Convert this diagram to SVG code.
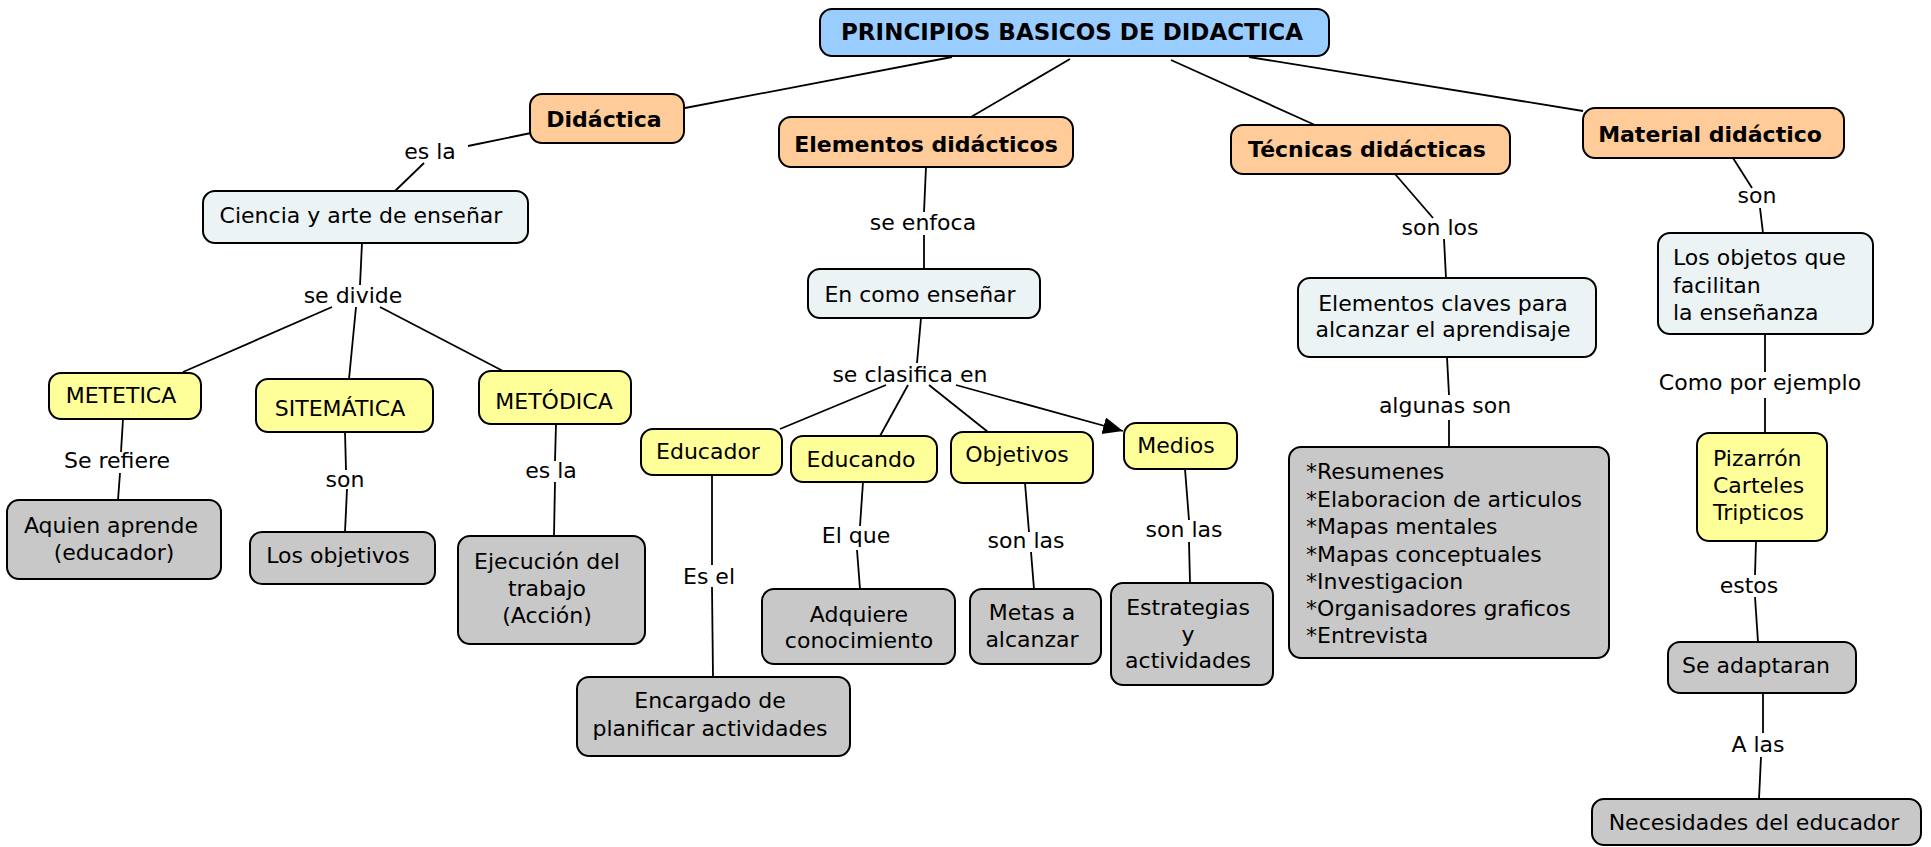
<svg xmlns="http://www.w3.org/2000/svg" width="1931" height="847" viewBox="0 0 1931 847">
<style>
text{font-family:"DejaVu Sans","Verdana",sans-serif;font-size:22px;fill:#000}
.b{font-weight:bold}
.c{text-anchor:middle}
rect{stroke:#000;stroke-width:2;rx:12;ry:12}
.root{fill:#99CCFF}
.or{fill:#FFCC99}
.lb{fill:#EBF3F5}
.ye{fill:#FFFF99}
.gr{fill:#C8C8C8}
#connectors line{stroke:#000;stroke-width:1.8;fill:none}
</style>
<defs>
<marker id="arr" markerUnits="userSpaceOnUse" markerWidth="22" markerHeight="18" refX="20" refY="8.5" orient="auto">
<path d="M0,0 L20,8.5 L0,17 z" fill="#000"/>
</marker>
</defs>
<rect x="0" y="0" width="1931" height="847" style="fill:#fff;stroke:none"/>
<g id="connectors">
<line x1="952" y1="57" x2="685" y2="108"/>
<line x1="531" y1="133" x2="468" y2="146"/>
<line x1="424" y1="163" x2="395" y2="191"/>
<line x1="1070" y1="59" x2="971" y2="117"/>
<line x1="926" y1="167" x2="924" y2="212"/>
<line x1="924" y1="235" x2="924" y2="269"/>
<line x1="1171" y1="60" x2="1315" y2="125"/>
<line x1="1249" y1="57" x2="1583" y2="111"/>
<line x1="1395" y1="174" x2="1433" y2="218"/>
<line x1="1444" y1="239" x2="1446" y2="278"/>
<line x1="1733" y1="158" x2="1752" y2="188"/>
<line x1="1760" y1="208" x2="1763" y2="233"/>
<line x1="1765" y1="334" x2="1765" y2="372"/>
<line x1="1765" y1="398" x2="1765" y2="433"/>
<line x1="362" y1="243" x2="360" y2="285"/>
<line x1="332" y1="307" x2="183" y2="372"/>
<line x1="356" y1="307" x2="349" y2="379"/>
<line x1="380" y1="307" x2="503" y2="371"/>
<line x1="123" y1="419" x2="121" y2="452"/>
<line x1="120" y1="473" x2="118" y2="500"/>
<line x1="345" y1="432" x2="346" y2="470"/>
<line x1="347" y1="489" x2="345" y2="532"/>
<line x1="556" y1="424" x2="555" y2="461"/>
<line x1="555" y1="482" x2="554" y2="536"/>
<line x1="921" y1="318" x2="917" y2="363"/>
<line x1="886" y1="385" x2="780" y2="429"/>
<line x1="908" y1="385" x2="880" y2="436"/>
<line x1="929" y1="385" x2="988" y2="432"/>
<line x1="956" y1="385" x2="1123" y2="431" marker-end="url(#arr)"/>
<line x1="712" y1="475" x2="712" y2="565"/>
<line x1="712" y1="587" x2="713" y2="677"/>
<line x1="863" y1="482" x2="860" y2="526"/>
<line x1="857" y1="550" x2="860" y2="589"/>
<line x1="1025" y1="483" x2="1029" y2="532"/>
<line x1="1031" y1="552" x2="1034" y2="589"/>
<line x1="1185" y1="469" x2="1189" y2="520"/>
<line x1="1189" y1="542" x2="1190" y2="583"/>
<line x1="1447" y1="357" x2="1449" y2="395"/>
<line x1="1449" y1="420" x2="1449" y2="447"/>
<line x1="1756" y1="541" x2="1755" y2="575"/>
<line x1="1755" y1="597" x2="1758" y2="642"/>
<line x1="1763" y1="693" x2="1763" y2="733"/>
<line x1="1761" y1="757" x2="1759" y2="799"/>
</g>
<g id="labels">
<text class="c" x="430" y="159">es la</text>
<text class="c" x="353" y="303">se divide</text>
<text class="c" x="923" y="230">se enfoca</text>
<text class="c" x="1440" y="235">son los</text>
<text class="c" x="1757" y="203">son</text>
<text class="c" x="1760" y="390">Como por ejemplo</text>
<text class="c" x="117" y="468">Se refiere</text>
<text class="c" x="345" y="487">son</text>
<text class="c" x="551" y="478">es la</text>
<text class="c" x="910" y="382">se clasifica en</text>
<text class="c" x="709" y="584">Es el</text>
<text class="c" x="856" y="543">El que</text>
<text class="c" x="1026" y="548">son las</text>
<text class="c" x="1184" y="537">son las</text>
<text class="c" x="1445" y="413">algunas son</text>
<text class="c" x="1749" y="593">estos</text>
<text class="c" x="1758" y="752">A las</text>
</g>
<g id="root"><rect class="root" x="820" y="9" width="509" height="47"/><text class="b c" x="1072" y="40" style="font-size:23px">PRINCIPIOS BASICOS DE DIDACTICA</text></g>
<g id="didactica"><rect class="or" x="530" y="94" width="154" height="49"/><text class="b c" x="604" y="127">Didáctica</text></g>
<g id="elementos"><rect class="or" x="779" y="117" width="294" height="50"/><text class="b c" x="926" y="152">Elementos didácticos</text></g>
<g id="tecnicas"><rect class="or" x="1231" y="125" width="279" height="49"/><text class="b c" x="1367" y="157">Técnicas didácticas</text></g>
<g id="material"><rect class="or" x="1583" y="108" width="261" height="50"/><text class="b c" x="1710" y="142">Material didáctico</text></g>
<g id="ciencia"><rect class="lb" x="203" y="191" width="325" height="52"/><text class="c" x="361" y="223">Ciencia y arte de enseñar</text></g>
<g id="encomo"><rect class="lb" x="808" y="269" width="232" height="49"/><text class="c" x="920" y="302">En como enseñar</text></g>
<g id="elemclaves"><rect class="lb" x="1298" y="278" width="298" height="79"/><text class="c" x="1443" y="311">Elementos claves para</text><text class="c" x="1443" y="337">alcanzar el aprendisaje</text></g>
<g id="losobjetos"><rect class="lb" x="1658" y="233" width="215" height="101"/><text x="1673" y="265">Los objetos que</text><text x="1673" y="293">facilitan</text><text x="1673" y="320">la enseñanza</text></g>
<g id="metetica"><rect class="ye" x="49" y="373" width="152" height="46"/><text class="c" x="121" y="403">METETICA</text></g>
<g id="sitematica"><rect class="ye" x="256" y="379" width="177" height="53"/><text class="c" x="340" y="416">SITEMÁTICA</text></g>
<g id="metodica"><rect class="ye" x="479" y="371" width="152" height="53"/><text class="c" x="554" y="409">METÓDICA</text></g>
<g id="educador"><rect class="ye" x="641" y="429" width="141" height="46"/><text class="c" x="708" y="459">Educador</text></g>
<g id="educando"><rect class="ye" x="791" y="436" width="146" height="46"/><text class="c" x="861" y="467">Educando</text></g>
<g id="objetivos"><rect class="ye" x="951" y="432" width="142" height="51"/><text class="c" x="1017" y="462">Objetivos</text></g>
<g id="medios"><rect class="ye" x="1124" y="423" width="113" height="46"/><text class="c" x="1176" y="453">Medios</text></g>
<g id="aquien"><rect class="gr" x="7" y="500" width="214" height="79"/><text class="c" x="111" y="533">Aquien aprende</text><text class="c" x="114" y="560">(educador)</text></g>
<g id="losobjetivos"><rect class="gr" x="250" y="532" width="185" height="52"/><text class="c" x="338" y="563">Los objetivos</text></g>
<g id="ejecucion"><rect class="gr" x="458" y="536" width="187" height="108"/><text class="c" x="547" y="569">Ejecución del</text><text class="c" x="547" y="596">trabajo</text><text class="c" x="547" y="623">(Acción)</text></g>
<g id="encargado"><rect class="gr" x="577" y="677" width="273" height="79"/><text class="c" x="710" y="708">Encargado de</text><text class="c" x="710" y="736">planificar actividades</text></g>
<g id="adquiere"><rect class="gr" x="762" y="589" width="193" height="75"/><text class="c" x="859" y="622">Adquiere</text><text class="c" x="859" y="648">conocimiento</text></g>
<g id="metas"><rect class="gr" x="970" y="589" width="131" height="75"/><text class="c" x="1032" y="620">Metas a</text><text class="c" x="1032" y="647">alcanzar</text></g>
<g id="estrategias"><rect class="gr" x="1111" y="583" width="162" height="102"/><text class="c" x="1188" y="615">Estrategias</text><text class="c" x="1188" y="642">y</text><text class="c" x="1188" y="668">actividades</text></g>
<g id="resumenes"><rect class="gr" x="1289" y="447" width="320" height="211"/><text x="1306" y="479">*Resumenes</text><text x="1306" y="507">*Elaboracion de articulos</text><text x="1306" y="534">*Mapas mentales</text><text x="1306" y="562">*Mapas conceptuales</text><text x="1306" y="589">*Investigacion</text><text x="1306" y="616">*Organisadores graficos</text><text x="1306" y="643">*Entrevista</text></g>
<g id="pizarron"><rect class="ye" x="1697" y="433" width="130" height="108"/><text x="1713" y="466">Pizarrón</text><text x="1713" y="493">Carteles</text><text x="1713" y="520">Tripticos</text></g>
<g id="seadaptaran"><rect class="gr" x="1668" y="642" width="188" height="51"/><text class="c" x="1756" y="673">Se adaptaran</text></g>
<g id="necesidades"><rect class="gr" x="1592" y="799" width="329" height="46"/><text class="c" x="1754" y="830">Necesidades del educador</text></g>
</svg>
